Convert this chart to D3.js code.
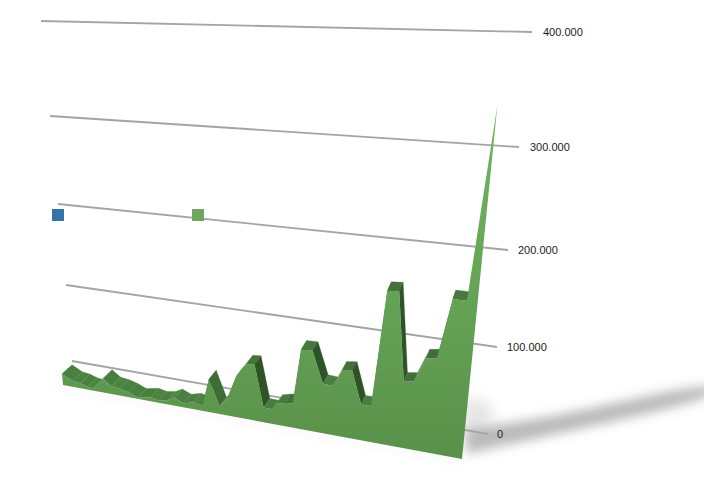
<!DOCTYPE html>
<html><head><meta charset="utf-8">
<script src="https://cdn.jsdelivr.net/npm/d3@7"></script>
<style>html,body{margin:0;padding:0;background:#fff}svg{display:block}text{font-family:"Liberation Sans",Arial,sans-serif;font-size:11px;fill:#1c1c1c}</style>
</head><body><div id="c"></div>
<script>
const tickValues=[0,100000,200000,300000,400000];
const days=[0,10,18,25,30,41,49,58,66,75,88,96,105,112,121,131,140,147,157,165,174,184,192,201,210,214,222,230,237,248,259,269,277,287,297,307,316,327,337,347,357,367,377,390,400];
const values=[14000,7500,6200,3700,2800,17000,9800,8600,6000,1800,4800,2800,4800,9200,5000,8200,6200,39000,9300,20000,47700,64000,65000,17000,17000,24000,26500,28000,91000,91500,56000,55500,74500,76000,40000,40000,163000,164000,73000,75000,102000,103500,163000,163000,339000];
const legendColors=["#3674a8","#6ea65d"];

const W=704,H=493;
const svg=d3.select("#c").append("svg").attr("width",W).attr("height",H);
const defs=svg.append("defs");
defs.append("filter").attr("id","blur").attr("x","-20%").attr("y","-50%").attr("width","140%").attr("height","200%")
  .append("feGaussianBlur").attr("stdDeviation",5.5);
defs.append("filter").attr("id","blur2").attr("x","-30%").attr("y","-50%").attr("width","160%").attr("height","200%")
  .append("feGaussianBlur").attr("stdDeviation",7);
defs.append("filter").attr("id","soft").attr("x","-2%").attr("y","-5%").attr("width","104%").attr("height","110%")
  .append("feGaussianBlur").attr("stdDeviation",.45);
const grad=defs.append("linearGradient").attr("id","face").attr("gradientUnits","userSpaceOnUse")
  .attr("x1",0).attr("y1",105).attr("x2",0).attr("y2",459);
grad.append("stop").attr("offset",0).attr("stop-color","#6fb55f");
grad.append("stop").attr("offset",.5).attr("stop-color","#65a556");
grad.append("stop").attr("offset",1).attr("stop-color","#5a904a");

// back wall: gridline ends
const gx0=d3.scaleLinear(tickValues,[72,66,58,50,41]);
const gy0=d3.scaleLinear(tickValues,[361,285,204,116,21]);
const gx1=d3.scaleLinear(tickValues,[488,497,508,519,532]);
const gy1=d3.scaleLinear(tickValues,[434,347,250,147,32]);
const labelOffset=d3.scaleLinear(tickValues,[9,10,10,11,11]);
// front plane projection
const tScale=d3.scaleLinear([0,400],[0,1]);
const baseX=d3.scaleLinear([0,1],[63,462]);
const baseY=d3.scaleLinear([0,1],[385,459]);
const heightL=d3.scaleLinear(tickValues,[0,80,170,265,370]);
const heightR=d3.scaleLinear(tickValues,[0,92,195,305,430]);
const slant=d3.scaleLinear([0,1],[-.09,.1]);
const depthX=d3.scaleLinear([0,1],[10,2.5]);
const depthY=-9;
function P(d,v){const t=tScale(d),h=heightL(v)*(1-t)+heightR(v)*t;
  return [baseX(t)+slant(t)*h,baseY(t)-h];}
function B(d,v){const p=P(d,v),t=tScale(d);return [p[0]+depthX(t),p[1]+depthY];}

const fmt=d3.formatLocale({decimal:",",thousands:".",grouping:[3],currency:["",""]}).format(",d");

// floor shadow
const band=d3.line().curve(d3.curveBasis);
svg.append("path").attr("filter","url(#blur2)").attr("fill","#e4e4e4")
  .attr("d",band([[462,398],[498,402],[490,425],[466,436]])+"Z");
svg.append("path").attr("filter","url(#blur)").attr("fill","#bababa")
  .attr("d",band([[466,428],[530,421],[620,402],[720,380],[720,397],[620,420],[530,440],[466,454]])+"Z");
svg.append("path").attr("filter","url(#blur)").attr("fill","#000").attr("opacity",.035)
  .attr("d",d3.line()([P(0,0),P(400,0),[P(400,0)[0],P(400,0)[1]+5],[P(0,0)[0],P(0,0)[1]+5]])+"Z");

// gridlines and labels
const grid=svg.append("g");
grid.append("g").attr("filter","url(#soft)").selectAll("line").data(tickValues).join("line")
  .attr("x1",gx0).attr("y1",gy0).attr("x2",gx1).attr("y2",gy1)
  .attr("stroke","#a4a4a4").attr("stroke-width",1.8);
grid.selectAll("text").data(tickValues).join("text")
  .attr("x",d=>gx1(d)+labelOffset(d)).attr("y",d=>gy1(d)+4).text(fmt);

// legend
svg.selectAll("rect.lg").data(legendColors).join("rect").attr("class","lg")
  .attr("x",(d,i)=>52+i*140).attr("y",209).attr("width",12).attr("height",12).attr("fill",d=>d);

// ribbon: the final rise is hidden behind the front face
const pts=days.map((d,i)=>({d,v:values[i]}));
const shade=d3.scaleLinear([-3,-1,-.25,0,.3,3],["#2d5226","#335c2b","#4c8342","#426d38","#54894a","#54894a"]).clamp(true);
const leftMix=d3.scaleLinear([0,130,190],[.75,.7,0]).clamp(true);
const ribColor=([a,b])=>{const p=P(a.d,a.v),q=P(b.d,b.v);
  return d3.interpolateRgb(shade((p[1]-q[1])/(q[0]-p[0])),"#4c8642")(leftMix(a.d));};
svg.append("g").attr("filter","url(#soft)").selectAll("path").data(d3.pairs(pts).slice(0,-1)).join("path")
  .attr("d",([a,b])=>d3.line()([P(a.d,a.v),P(b.d,b.v),B(b.d,b.v),B(a.d,a.v)])+"Z")
  .attr("fill",ribColor).attr("stroke",ribColor).attr("stroke-width",.3);
// front face
const outline=[P(0,0),...pts.map(p=>P(p.d,p.v)),P(400,0)];
svg.append("path").attr("d",d3.line()(outline)+"Z").attr("fill","url(#face)");
</script></body></html>
